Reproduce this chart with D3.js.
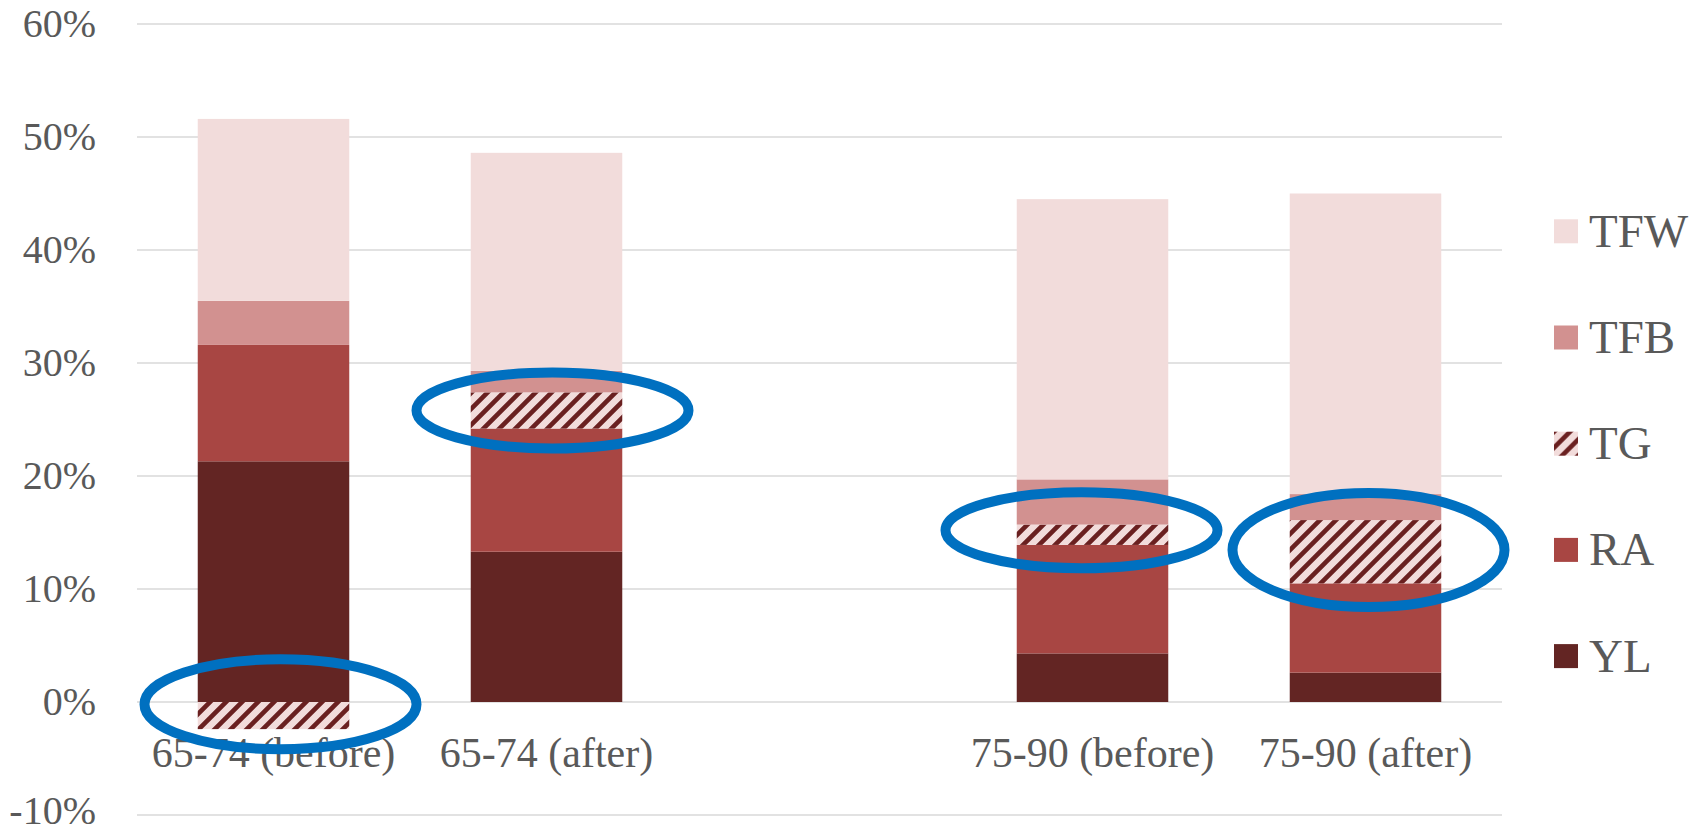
<!DOCTYPE html>
<html>
<head>
<meta charset="utf-8">
<script src="https://cdn.jsdelivr.net/npm/d3@7"></script>
<style>
    body { margin: 0; background: #fff; }
</style>
</head>
<body>
<script>
// categories (the empty one is the gap between the two age groups)
var categories = ["65-74 (before)", "65-74 (after)", "", "75-90 (before)", "75-90 (after)"];
var seriesNames = ["YL", "RA", "TG", "TFB", "TFW"];
// values in percent, per series, in category order
var YL  = [21.3, 13.3, 0, 4.3, 2.6];
var RA  = [10.3, 10.9, 0, 9.6, 7.9];
var TG  = [-2.4, 3.2, 0, 1.8, 5.6];
var TFB = [3.9, 1.9, 0, 4.0, 2.3];
var TFW = [16.1, 19.3, 0, 24.8, 26.6];
var yTicks = [-10, 0, 10, 20, 30, 40, 50, 60];

// circled highlights: category, value at centre
var highlights = [
    {cat: "65-74 (before)", value: -0.2, dx: 7, rx: 136, ry: 45},
    {cat: "65-74 (after)", value: 25.8, dx: 6, rx: 136, ry: 38},
    {cat: "75-90 (before)", value: 15.2, dx: -11, rx: 136, ry: 38},
    {cat: "75-90 (after)", value: 13.45, dx: 3, rx: 136, ry: 57}
];

var colors = {YL: "#632523", RA: "#a84643", TG: "url(#hatch)", TFB: "#d29190", TFW: "#f2dcdb"};
var font = "'Liberation Serif', 'Times New Roman', Times, serif";

var width = 1705, height = 834;
var plot = {left: 137, right: 1502, top: 24, bottom: 815};

var svg = d3.select("body").append("svg")
    .attr("width", width)
    .attr("height", height)
    .attr("font-family", font);

var defs = svg.append("defs");
var pat = defs.append("pattern")
    .attr("id", "hatch")
    .attr("patternUnits", "userSpaceOnUse")
    .attr("width", 16)
    .attr("height", 16);
pat.append("rect").attr("width", 16).attr("height", 16).attr("fill", "#f2dcdb");
pat.append("path")
    .attr("d", "M-4,4 L4,-4 M0,16 L16,0 M12,20 L20,12")
    .attr("stroke", "#6a2020")
    .attr("stroke-width", 4.6);

var table = categories.map(function (c, i) {
    return {cat: c, YL: YL[i], RA: RA[i], TG: TG[i], TFB: TFB[i], TFW: TFW[i]};
});

var stack = d3.stack()
    .keys(seriesNames)
    .offset(d3.stackOffsetDiverging);
var layers = stack(table);

var x = d3.scaleBand()
    .domain(categories)
    .range([plot.left, plot.right])
    .paddingInner(0.445)
    .paddingOuter(0.2225);

var y = d3.scaleLinear()
    .domain([-10, 60])
    .range([plot.bottom, plot.top]);

// gridlines
svg.append("g")
    .selectAll("line")
    .data(yTicks)
    .enter().append("line")
    .attr("x1", plot.left)
    .attr("x2", plot.right)
    .attr("y1", function (d) { return y(d); })
    .attr("y2", function (d) { return y(d); })
    .attr("stroke", "#d9d9d9")
    .attr("stroke-width", 1.5);

// y labels (last one kept inside the bottom edge)
svg.append("g")
    .selectAll("text")
    .data(yTicks)
    .enter().append("text")
    .attr("x", 96)
    .attr("y", function (d) { return Math.min(y(d) + 13, height - 10); })
    .attr("text-anchor", "end")
    .attr("font-family", font)
    .attr("font-size", 40)
    .attr("fill", "#595959")
    .text(function (d) { return d + "%"; });

// bars
svg.append("g")
    .selectAll("g")
    .data(layers)
    .enter().append("g")
    .attr("fill", function (d) { return colors[d.key]; })
    .selectAll("rect")
    .data(function (d) { return d.filter(function (s) { return s.data.cat !== ""; }); })
    .enter().append("rect")
    .attr("x", function (d) { return x(d.data.cat); })
    .attr("width", x.bandwidth())
    .attr("y", function (d) { return y(Math.max(d[0], d[1])); })
    .attr("height", function (d) { return Math.abs(y(d[0]) - y(d[1])); });

// x labels
var xAxis = svg.append("g")
    .attr("transform", "translate(0," + 767 + ")")
    .call(d3.axisBottom(x).tickSize(0).tickPadding(0));
xAxis.attr("font-family", font);
xAxis.select(".domain").remove();
xAxis.selectAll("text")
    .attr("dy", 0)
    .attr("y", 0)
    .attr("font-family", font)
    .attr("font-size", 42)
    .attr("fill", "#595959");

// highlight ellipses
svg.append("g")
    .selectAll("ellipse")
    .data(highlights)
    .enter().append("ellipse")
    .attr("cx", function (d) { return x(d.cat) + x.bandwidth() / 2 + d.dx; })
    .attr("cy", function (d) { return y(d.value); })
    .attr("rx", function (d) { return d.rx; })
    .attr("ry", function (d) { return d.ry; })
    .attr("fill", "none")
    .attr("stroke", "#0070c0")
    .attr("stroke-width", 10);

// legend
var legendNames = seriesNames.slice().reverse();
var legend = svg.append("g")
    .selectAll("g")
    .data(legendNames)
    .enter().append("g")
    .attr("transform", function (d, i) { return "translate(1554," + (219.3 + i * 106.2) + ")"; });
legend.append("rect")
    .attr("width", 24)
    .attr("height", 24)
    .attr("fill", function (d) { return colors[d]; });
legend.append("text")
    .attr("x", 35)
    .attr("y", 27.4)
    .attr("font-family", font)
    .attr("font-size", 47)
    .attr("fill", "#595959")
    .text(function (d) { return d; });
</script>
</body>
</html>
